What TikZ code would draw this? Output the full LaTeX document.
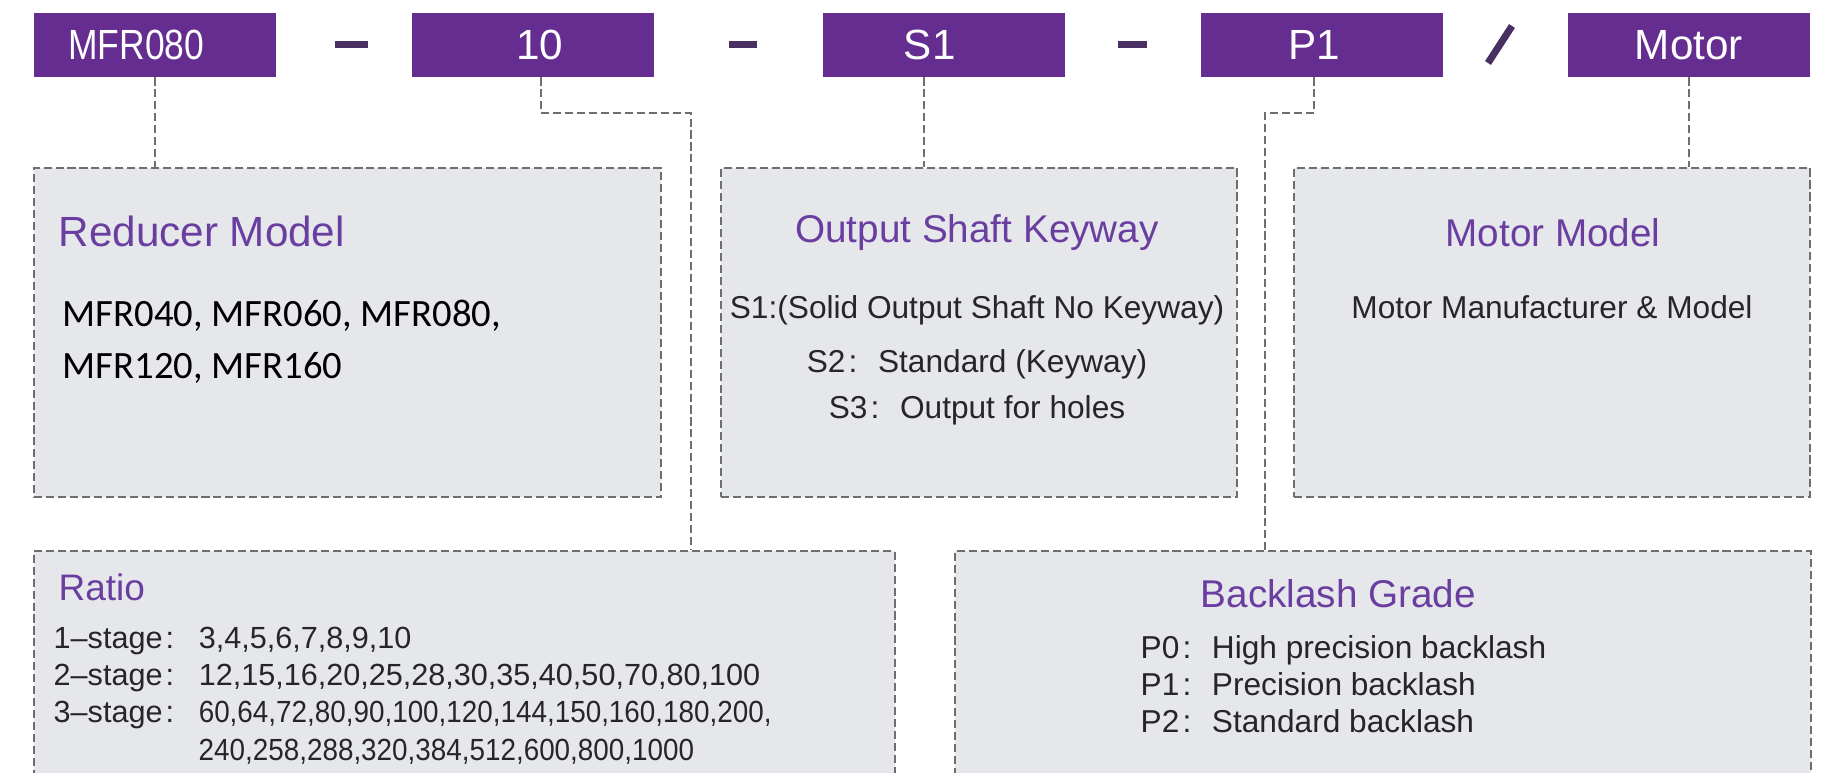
\documentclass[tikz,border=0pt]{standalone}
\usepackage{graphicx}
\usepackage{fontspec}
\setmainfont{Liberation Sans}
\newfontfamily\calibrifont{Carlito}
\newfontfamily\narrowfont[FakeStretch=0.84]{Liberation Sans}
\definecolor{tagpurple}{RGB}{102,45,145}
\definecolor{headpurple}{RGB}{106,62,160}
\definecolor{sepdark}{RGB}{72,48,98}
\definecolor{boxfill}{RGB}{230,231,235}
\definecolor{boxline}{RGB}{110,110,112}
\definecolor{bodytext}{RGB}{38,38,38}
\newcommand{\wcolon}{\hspace{0.1em}:\hspace{0.65em}}
\newcommand{\stagelabel}[1]{\makebox[1.45cm][l]{#1--stage\hspace{0.1em}:}}
\newcommand{\tightnums}[1]{\scalebox{0.91}[1]{#1}}
\tikzset{
  codetag/.style={fill=tagpurple, text=white, minimum width=2.42cm, minimum height=0.64cm,
    inner sep=0pt, anchor=north west, font=\fontsize{12}{14}\selectfont},
  infobox/.style={draw=boxline, fill=boxfill, line width=0.6pt,
    dash pattern=on 2.3pt off 1.1pt, inner sep=0pt, anchor=north west},
  link/.style={draw=boxline, line width=0.6pt, dash pattern=on 2.3pt off 1.1pt},
  boxhead/.style={text=headpurple, inner sep=0pt, font=\fontsize{11}{13}\selectfont},
  boxtext/.style={text=bodytext, inner sep=0pt, font=\fontsize{9}{11}\selectfont},
  ratiotext/.style={text=bodytext, inner sep=0pt, anchor=base west, font=\fontsize{8.7}{10}\selectfont},
  sepbar/.style={draw=sepdark, line width=1.85pt},
}
\begin{document}
\begin{tikzpicture}[x=0.01cm,y=-0.01cm]
    \clip (0,0) rectangle (1821,773);
    % code
    \node[codetag] (mfr) at (33,12) {\hspace{-0.37cm}\narrowfont MFR080};
    \node[codetag] (ten) at (411,12) {\hspace{0.14cm}10};
    \node[codetag] (s1) at (822,12) {\hspace{-0.28cm}S1};
    \node[codetag] (p1) at (1200,12) {\hspace{-0.15cm}P1};
    \node[codetag] (motortag) at (1567,12) {Motor};
    \draw[sepbar] (335,44.5) -- (368,44.5);
    \draw[sepbar] (729,44.5) -- (757,44.5);
    \draw[sepbar] (1118,44.5) -- (1147,44.5);
    \draw[sepbar, line width=2pt] (1512,26) -- (1488,63);
    % boxes
    \node[infobox, minimum width=6.27cm, minimum height=3.29cm] (reducer) at (33,167) {};
    \node[infobox, minimum width=5.16cm, minimum height=3.29cm] (keyway) at (720,167) {};
    \node[infobox, minimum width=5.16cm, minimum height=3.29cm] (motorbox) at (1293,167) {};
    \node[infobox, minimum width=8.60cm, minimum height=2.60cm] (ratiobox) at (33,550) {};
    \node[infobox, minimum width=8.55cm, minimum height=2.60cm] (backlash) at (954,550) {};
    % links
    \coordinate (tenfoot) at ([xshift=0.08cm]ten.south);
    \coordinate (tenbend) at (691,113);
    \coordinate (s1foot) at ([xshift=-0.2cm]s1.south);
    \coordinate (p1foot) at ([xshift=-0.075cm]p1.south);
    \coordinate (p1bend) at (1265,113);
    \draw[link] (mfr.south) -- (mfr.south |- reducer.north);
    \draw[link] (tenfoot) |- (tenbend) -- (tenbend |- ratiobox.north);
    \draw[link] (s1foot) -- (s1foot |- keyway.north);
    \draw[link] (p1foot) |- (p1bend) -- (p1bend |- backlash.north);
    \draw[link] (motortag.south) -- (motortag.south |- motorbox.north);
    % texts
    \node[boxhead, anchor=base west, font=\fontsize{12}{14}\selectfont] (reducerhead) at (58,247) {Reducer Model};
    \node[anchor=base west, inner sep=0pt, font=\calibrifont\fontsize{11}{13}\selectfont] (mfrlineA) at (62,327) {MFR040, MFR060, MFR080,};
    \node[anchor=base west, inner sep=0pt, font=\calibrifont\fontsize{11}{13}\selectfont] (mfrlineB) at (62,378) {MFR120, MFR160};
    \node[boxhead, anchor=base] (keywayhead) at (977,242) {Output Shaft Keyway};
    \node[boxtext, anchor=base] (sA) at (977,318) {S1:(Solid Output Shaft No Keyway)};
    \node[boxtext, anchor=base] (sB) at (977,372) {S2\wcolon Standard (Keyway)};
    \node[boxtext, anchor=base] (sC) at (977,418) {S3\wcolon Output for holes};
    \node[boxhead, anchor=base] (motorhead) at (1553,247) {Motor Model};
    \node[boxtext, anchor=base] (motorline) at (1552,318) {Motor Manufacturer \& Model};
    \node[boxhead, anchor=base west, font=\fontsize{10.5}{12}\selectfont] (ratiohead) at (58,600) {Ratio};
    \node[ratiotext] (stageA) at (53,648) {\stagelabel{1}3,4,5,6,7,8,9,10};
    \node[ratiotext] (stageB) at (53,685) {\stagelabel{2}12,15,16,20,25,28,30,35,40,50,70,80,100};
    \node[ratiotext] (stageC) at (53,722) {\stagelabel{3}\tightnums{60,64,72,80,90,100,120,144,150,160,180,200,}};
    \node[ratiotext] (stageCmore) at (198,760) {\tightnums{240,258,288,320,384,512,600,800,1000}};
    \node[boxhead, anchor=base west] (backlashhead) at (1200,607) {Backlash Grade};
    \node[boxtext, anchor=base west] (pA) at (1140,658) {P0\wcolon High precision backlash};
    \node[boxtext, anchor=base west] (pB) at (1140,695) {P1\wcolon Precision backlash};
    \node[boxtext, anchor=base west] (pC) at (1140,732) {P2\wcolon Standard backlash};
\end{tikzpicture}
\end{document}
